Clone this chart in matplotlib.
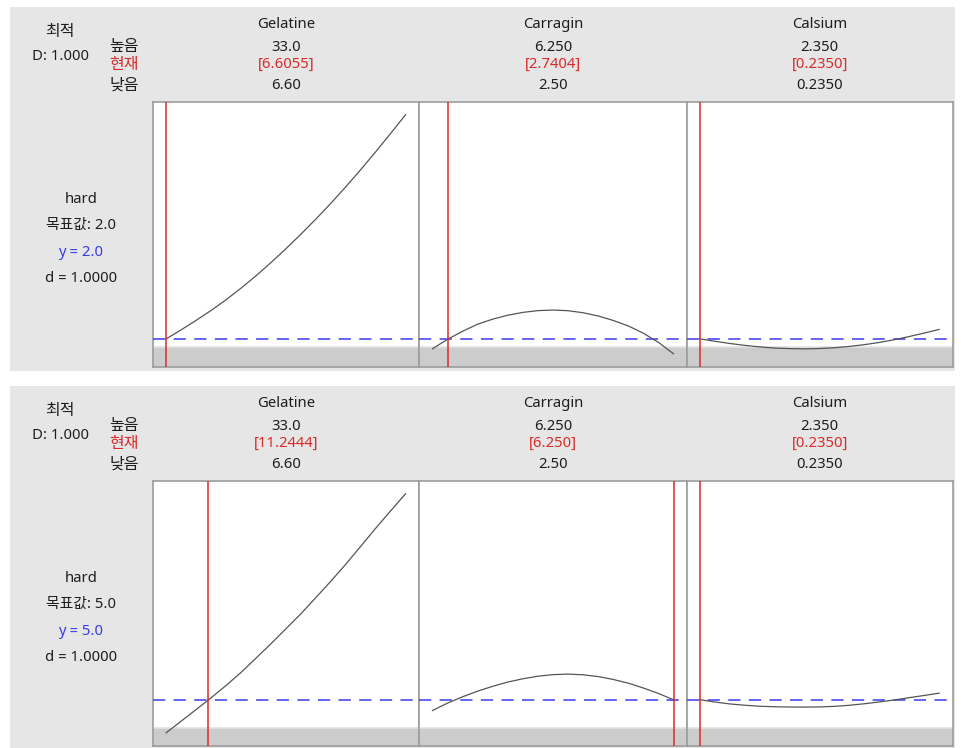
import matplotlib
matplotlib.use('Agg')
import matplotlib.pyplot as plt
from matplotlib.patches import Rectangle

plt.rcParams['font.family'] = ['Noto Sans', 'Noto Sans CJK KR', 'DejaVu Sans']

# ---------------- data ----------------
factors = ['Gelatine', 'Carragin', 'Calsium']
lows = [6.60, 2.50, 0.235]
highs = [33.0, 6.25, 2.35]
high_labels = ['33.0', '6.250', '2.350']
low_labels = ['6.60', '2.50', '0.2350']

gel_x = [6.6, 8.25, 9.9, 11.55, 13.2, 14.85, 16.5, 18.15, 19.8,
         21.45, 23.1, 24.75, 26.4, 28.05, 29.7, 31.35, 33.0]
carr_x = [2.5, 2.73, 2.97, 3.2, 3.44, 3.67, 3.91, 4.14, 4.38,
          4.61, 4.84, 5.08, 5.31, 5.55, 5.78, 6.02, 6.25]
cal_x = [0.235, 0.367, 0.499, 0.632, 0.764, 0.896, 1.028, 1.160, 1.293,
         1.425, 1.557, 1.689, 1.821, 1.954, 2.086, 2.218, 2.35]

response = 'hard'
gray_level = 1.23

# panel 1
p1_current = [6.6055, 2.7404, 0.2350]
p1_current_labels = ['[6.6055]', '[2.7404]', '[0.2350]']
p1_target = 2.0
p1_gel = [2.00, 2.82, 3.68, 4.58, 5.55, 6.60, 7.72, 8.92, 10.18,
          11.50, 12.87, 14.30, 15.80, 17.36, 18.98, 20.65, 22.35]
p1_carr = [1.11, 1.95, 2.70, 3.33, 3.80, 4.15, 4.41, 4.57, 4.62,
           4.56, 4.38, 4.08, 3.68, 3.17, 2.52, 1.67, 0.65]
p1_cal = [2.00, 1.78, 1.58, 1.41, 1.27, 1.17, 1.12, 1.10, 1.13,
          1.20, 1.32, 1.48, 1.68, 1.93, 2.22, 2.53, 2.86]

# panel 2
p2_current = [11.2444, 6.250, 0.2350]
p2_current_labels = ['[11.2444]', '[6.250]', '[0.2350]']
p2_target = 5.0
p2_gel = [0.66, 2.18, 3.71, 5.25, 6.87, 8.59, 10.46, 12.36, 14.33,
          16.30, 18.43, 20.58, 22.82, 25.18, 27.55, 29.84, 32.10]
p2_carr = [3.59, 4.55, 5.40, 6.13, 6.78, 7.33, 7.77, 8.10, 8.31,
           8.38, 8.29, 8.05, 7.68, 7.18, 6.55, 5.82, 5.00]
p2_cal = [5.00, 4.70, 4.45, 4.28, 4.15, 4.08, 4.05, 4.04, 4.06,
          4.14, 4.28, 4.48, 4.72, 4.98, 5.28, 5.57, 5.87]

panels = [
    dict(current=p1_current, cur_labels=p1_current_labels, target=p1_target,
         curves=[p1_gel, p1_carr, p1_cal]),
    dict(current=p2_current, cur_labels=p2_current_labels, target=p2_target,
         curves=[p2_gel, p2_carr, p2_cal]),
]
xs = [gel_x, carr_x, cal_x]

# ---------------- layout ----------------
W, H = 961, 748
fig = plt.figure(figsize=(W / 100, H / 100), dpi=100)
fig.patch.set_facecolor('white')

bg = fig.add_axes([0, 0, 1, 1], zorder=0)
bg.set_xlim(0, W)
bg.set_ylim(H, 0)
bg.axis('off')

def px_axes(x0, y0, x1, y1):
    return fig.add_axes([x0 / W, 1 - y1 / H, (x1 - x0) / W, (y1 - y0) / H], zorder=2)

BLACK = '#1e1e1e'
RED = '#d92b2b'
BLUE = '#3a3af0'
FS = 10.7
FSK = 11.5

cols = [(152.7, 419.0), (419.0, 687.0), (687.0, 952.5)]
col_centers = [(a + b) / 2 for a, b in cols]
offsets = [0, 379]

for p, off in zip(panels, offsets):
    # gray background
    bg.add_patch(Rectangle((10, 7 + off), 945, 364, facecolor='#e6e6e6',
                           edgecolor='none', zorder=0))
    # left texts
    bg.text(60, 35.5 + off, '최적', ha='center', va='baseline', fontsize=FSK, color=BLACK)
    bg.text(60, 60 + off, 'D: 1.000', ha='center', va='baseline', fontsize=FS, color=BLACK)
    bg.text(124, 51 + off, '높음', ha='center', va='baseline', fontsize=FSK, color=BLACK)
    bg.text(124, 68.8 + off, '현재', ha='center', va='baseline', fontsize=FSK, color=RED)
    bg.text(124, 89.8 + off, '낮음', ha='center', va='baseline', fontsize=FSK, color=BLACK)
    bg.text(81, 203.3 + off, response, ha='center', va='baseline', fontsize=FS, color=BLACK)
    bg.text(81, 229.3 + off, f'목표값: {p["target"]:.1f}', ha='center', va='baseline',
            fontsize=FS, color=BLACK)
    bg.text(81, 256 + off, f'y = {p["target"]:.1f}', ha='center', va='baseline',
            fontsize=FS, color=BLUE)
    bg.text(81, 281.7 + off, 'd = 1.0000', ha='center', va='baseline', fontsize=FS, color=BLACK)

    allv = [v for c in p['curves'] for v in c]
    dmin, dmax = min(allv), max(allv)
    ypad = 0.054 * (dmax - dmin)
    ylim = (dmin - ypad, dmax + ypad)

    for i in range(3):
        cx = col_centers[i]
        bg.text(cx, 28.3 + off, factors[i], ha='center', va='baseline', fontsize=FS, color=BLACK)
        bg.text(cx, 50.7 + off, high_labels[i], ha='center', va='baseline', fontsize=FS, color=BLACK)
        bg.text(cx, 68.3 + off, p['cur_labels'][i], ha='center', va='baseline', fontsize=FS, color=RED)
        bg.text(cx, 89.3 + off, low_labels[i], ha='center', va='baseline', fontsize=FS, color=BLACK)

        x0, x1 = cols[i]
        ax = px_axes(x0, 101.8 + off, x1, 366.7 + off)
        ax.set_facecolor('white')
        lo, hi = lows[i], highs[i]
        xpad = 0.056 * (hi - lo)
        ax.set_xlim(lo - xpad, hi + xpad)
        ax.set_ylim(*ylim)
        ax.axhspan(ylim[0], gray_level, color='#cccccc', lw=0, zorder=1)
        ax.axhline(gray_level, color='#e2e2e2', lw=1.2, zorder=1)
        ax.axhline(p['target'], color=BLUE, lw=1.1, ls=(0, (8, 5.5)), zorder=3)
        ax.plot(xs[i], p['curves'][i], color='#555555', lw=0.9, zorder=4)
        ax.axvline(p['current'][i], color=RED, lw=1.1, zorder=5)
        ax.set_xticks([])
        ax.set_yticks([])
        for s in ax.spines.values():
            s.set_color('#9c9c9c')
            s.set_linewidth(1.2)

fig.savefig('out.png', dpi=100, facecolor='white')
